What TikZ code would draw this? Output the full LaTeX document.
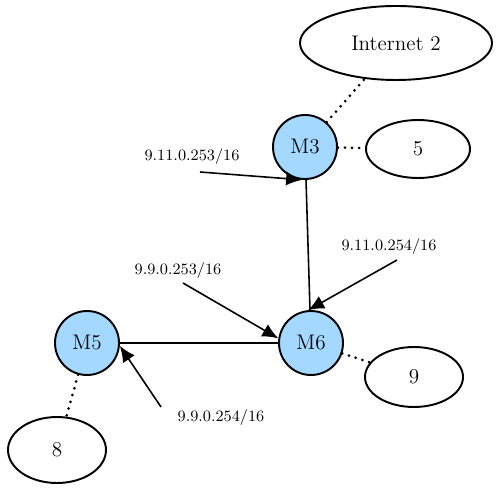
\documentclass[tikz,border=0pt]{standalone}
\usepackage{tikz}
\usetikzlibrary{arrows.meta, positioning, shapes}
\definecolor{routerblue}{HTML}{A5D8FF}

\tikzset{
    router/.style={circle, draw, line width=1.1pt, fill=routerblue, minimum size=1.28cm, inner sep=0pt, font=\large},
    cloud/.style={ellipse, draw, line width=1.1pt, inner sep=0pt, font=\large},
    iplabel/.style={font=\small},
    link/.style={line width=0.9pt},
    ipedge/.style={line width=0.9pt, -{Latex[length=3.2mm,width=2.8mm]}},
    attach/.style={line width=1.7pt, line cap=round, dash pattern=on 0pt off 4pt}
}

\begin{document}
\begin{tikzpicture}
\useasboundingbox (0,0) rectangle (10,9.82);

% routers
\node[router] (m3) at (6.10, 6.88) {M3};
\node[router] (m6) at (6.22, 2.96) {M6};
\node[router] (m5) at (1.74, 2.96) {M5};

% networks
\node[cloud, minimum width=3.84cm, minimum height=1.48cm] (inet) at (7.92, 8.96) {Internet 2};
\node[cloud, minimum width=2.08cm, minimum height=1.16cm] (net5) at (8.36, 6.84) {5};
\node[cloud, minimum width=1.96cm, minimum height=1.2cm] (net9) at (8.28, 2.28) {9};
\node[cloud, minimum width=1.96cm, minimum height=1.32cm] (net8) at (1.14, 0.82) {8};

% addresses
\node[iplabel] (a1) at (3.84, 6.68) {9.11.0.253/16};
\node[iplabel] (a2) at (7.78, 4.88) {9.11.0.254/16};
\node[iplabel] (a3) at (3.56, 4.40) {9.9.0.253/16};
\node[iplabel] (a4) at (4.42, 1.46) {9.9.0.254/16};

\coordinate (t1) at (4.00, 6.38);
\coordinate (t2) at (7.94, 4.62);
\coordinate (t3) at (3.66, 4.16);
\coordinate (t4) at (3.22, 1.68);

% links between routers
\draw[link] (m3) -- (m6);
\draw[link] (m5) -- (m6);

\draw[ipedge] (t1) -- (m3.265);
\draw[ipedge] (t2) -- (m6.95);
\draw[ipedge] (t3) -- (m6.172);
\draw[ipedge] (t4) -- (m5.355);

% attached networks
\foreach \r/\n in {m3/inet, m3/net5, m6/net9, m5/net8}{
    \draw[attach] (\r) -- (\n);
};

\end{tikzpicture}
\end{document}
